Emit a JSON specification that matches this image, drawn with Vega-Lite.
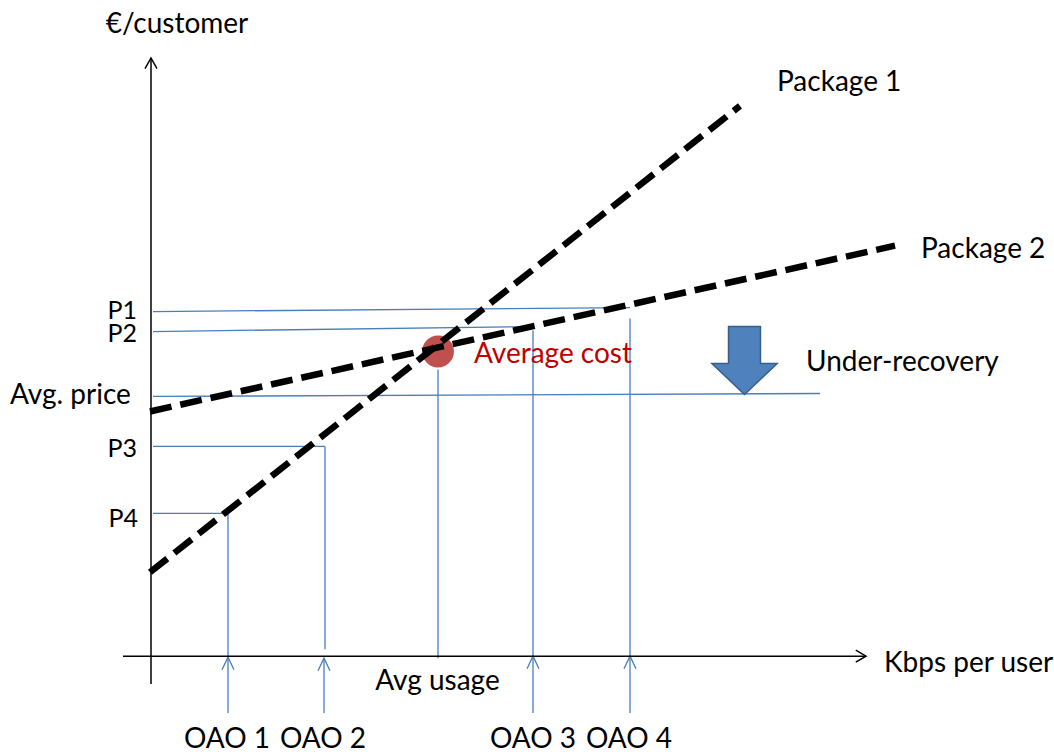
{
  "$schema": "https://vega.github.io/schema/vega-lite/v6.json",
  "width": 1054,
  "height": 754,
  "autosize": {"type": "fit", "contains": "padding"},
  "padding": 0,
  "background": "white",
  "config": {"view": {"stroke": null}},
  "datasets": {
    "axes": [
      {"x": 0, "y": -28, "x2": 0, "y2": 599},
      {"x": -28, "y": 0, "x2": 715, "y2": 0}
    ],
    "packages": [
      {"name": "Package 1", "x": -1, "y": 84, "x2": 589, "y2": 551},
      {"name": "Package 2", "x": -1, "y": 245, "x2": 744, "y2": 411}
    ],
    "guides": [
      {"x": 2, "y": 345, "x2": 479, "y2": 349},
      {"x": 2, "y": 325, "x2": 382, "y2": 330},
      {"x": 2, "y": 260, "x2": 669, "y2": 263},
      {"x": 2, "y": 210, "x2": 174, "y2": 210},
      {"x": 174, "y": 210, "x2": 174, "y2": 7},
      {"x": 2, "y": 143, "x2": 77, "y2": 143},
      {"x": 77, "y": 143, "x2": 77, "y2": -57},
      {"x": 173, "y": -57, "x2": 173, "y2": -2},
      {"x": 287, "y": 287, "x2": 287, "y2": -2},
      {"x": 382, "y": 326, "x2": 382, "y2": -57},
      {"x": 479, "y": 338, "x2": 479, "y2": -57}
    ],
    "blueHeads": [
      {"x": 77, "y": -1},
      {"x": 173, "y": -2},
      {"x": 382, "y": 0},
      {"x": 479, "y": 0}
    ],
    "avgCost": [{"x": 287, "y": 305}],
    "recovery": [{"x": 593.5, "y": 296}],
    "leftLabels": [
      {"text": "Package 1", "x": 626, "y": 566},
      {"text": "Package 2", "x": 770, "y": 399},
      {"text": "Under-recovery", "x": 655, "y": 286},
      {"text": "Avg. price", "x": -141, "y": 252},
      {"text": "Kbps per user", "x": 733, "y": -16}
    ],
    "centerLabels": [
      {"text": "€/customer", "x": 26, "y": 624},
      {"text": "Avg usage", "x": 286.5, "y": -34},
      {"text": "OAO 1", "x": 76, "y": -92},
      {"text": "OAO 2", "x": 172, "y": -92},
      {"text": "OAO 3", "x": 382, "y": -92},
      {"text": "OAO 4", "x": 478, "y": -92}
    ],
    "rightLabels": [
      {"text": "P1", "x": -14, "y": 338},
      {"text": "P2", "x": -14, "y": 315},
      {"text": "P3", "x": -14, "y": 199},
      {"text": "P4", "x": -13, "y": 129}
    ],
    "redLabels": [
      {"text": "Average cost", "x": 323, "y": 294}
    ]
  },
  "layer": [
    {
      "data": {"name": "guides"},
      "mark": {"type": "rule", "color": "#4A7EBB", "strokeWidth": 1.3},
      "encoding": {
        "x": {"field": "x", "type": "quantitative", "scale": {"domain": [-151, 903], "nice": false, "zero": false}, "axis": null},
        "y": {"field": "y", "type": "quantitative", "scale": {"domain": [-97, 657], "nice": false, "zero": false}, "axis": null},
        "x2": {"field": "x2"},
        "y2": {"field": "y2"}
      }
    },
    {
      "data": {"name": "blueHeads"},
      "mark": {"type": "point", "shape": "M-1,2.1L0,0L1,2.1", "size": 144, "filled": false, "stroke": "#4A7EBB", "strokeWidth": 1.3, "opacity": 1},
      "encoding": {
        "x": {"field": "x", "type": "quantitative", "scale": {"domain": [-151, 903], "nice": false, "zero": false}, "axis": null},
        "y": {"field": "y", "type": "quantitative", "scale": {"domain": [-97, 657], "nice": false, "zero": false}, "axis": null}
      }
    },
    {
      "data": {"name": "axes"},
      "mark": {"type": "rule", "color": "black", "strokeWidth": 1.5},
      "encoding": {
        "x": {"field": "x", "type": "quantitative", "scale": {"domain": [-151, 903], "nice": false, "zero": false}, "axis": null},
        "y": {"field": "y", "type": "quantitative", "scale": {"domain": [-97, 657], "nice": false, "zero": false}, "axis": null},
        "x2": {"field": "x2"},
        "y2": {"field": "y2"}
      }
    },
    {
      "data": {"values": [{"x": 0, "y": 599}]},
      "mark": {"type": "point", "shape": "M-1,1.8L0,0L1,1.8", "size": 144, "filled": false, "stroke": "black", "strokeWidth": 1.5, "opacity": 1},
      "encoding": {
        "x": {"field": "x", "type": "quantitative", "scale": {"domain": [-151, 903], "nice": false, "zero": false}, "axis": null},
        "y": {"field": "y", "type": "quantitative", "scale": {"domain": [-97, 657], "nice": false, "zero": false}, "axis": null}
      }
    },
    {
      "data": {"values": [{"x": 715, "y": 0}]},
      "mark": {"type": "point", "shape": "M-1.7,-1L0,0L-1.7,1", "size": 144, "filled": false, "stroke": "black", "strokeWidth": 1.5, "opacity": 1},
      "encoding": {
        "x": {"field": "x", "type": "quantitative", "scale": {"domain": [-151, 903], "nice": false, "zero": false}, "axis": null},
        "y": {"field": "y", "type": "quantitative", "scale": {"domain": [-97, 657], "nice": false, "zero": false}, "axis": null}
      }
    },
    {
      "data": {"name": "avgCost"},
      "mark": {"type": "circle", "size": 1018, "color": "#C0504D", "opacity": 1},
      "encoding": {
        "x": {"field": "x", "type": "quantitative", "scale": {"domain": [-151, 903], "nice": false, "zero": false}, "axis": null},
        "y": {"field": "y", "type": "quantitative", "scale": {"domain": [-97, 657], "nice": false, "zero": false}, "axis": null}
      }
    },
    {
      "data": {"name": "packages"},
      "mark": {"type": "rule", "color": "black", "strokeWidth": 6.5, "strokeDash": [22, 9], "strokeCap": "butt"},
      "encoding": {
        "x": {"field": "x", "type": "quantitative", "scale": {"domain": [-151, 903], "nice": false, "zero": false}, "axis": null},
        "y": {"field": "y", "type": "quantitative", "scale": {"domain": [-97, 657], "nice": false, "zero": false}, "axis": null},
        "x2": {"field": "x2"},
        "y2": {"field": "y2"}
      }
    },
    {
      "data": {"name": "recovery"},
      "mark": {"type": "point", "shape": "M-0.47,-1L0.47,-1L0.47,0.09L0.96,0.09L0,1L-0.96,0.09L-0.47,0.09Z", "size": 4624, "filled": true, "fill": "#4F81BD", "stroke": "#385D8A", "strokeWidth": 1.5, "opacity": 1},
      "encoding": {
        "x": {"field": "x", "type": "quantitative", "scale": {"domain": [-151, 903], "nice": false, "zero": false}, "axis": null},
        "y": {"field": "y", "type": "quantitative", "scale": {"domain": [-97, 657], "nice": false, "zero": false}, "axis": null}
      }
    },
    {
      "data": {"name": "leftLabels"},
      "mark": {"type": "text", "font": "Lato", "fontSize": 28, "baseline": "alphabetic", "align": "left", "color": "black"},
      "encoding": {
        "x": {"field": "x", "type": "quantitative", "scale": {"domain": [-151, 903], "nice": false, "zero": false}, "axis": null},
        "y": {"field": "y", "type": "quantitative", "scale": {"domain": [-97, 657], "nice": false, "zero": false}, "axis": null},
        "text": {"field": "text"}
      }
    },
    {
      "data": {"name": "centerLabels"},
      "mark": {"type": "text", "font": "Lato", "fontSize": 28, "baseline": "alphabetic", "align": "center", "color": "black"},
      "encoding": {
        "x": {"field": "x", "type": "quantitative", "scale": {"domain": [-151, 903], "nice": false, "zero": false}, "axis": null},
        "y": {"field": "y", "type": "quantitative", "scale": {"domain": [-97, 657], "nice": false, "zero": false}, "axis": null},
        "text": {"field": "text"}
      }
    },
    {
      "data": {"name": "rightLabels"},
      "mark": {"type": "text", "font": "Lato", "fontSize": 25, "baseline": "alphabetic", "align": "right", "color": "black"},
      "encoding": {
        "x": {"field": "x", "type": "quantitative", "scale": {"domain": [-151, 903], "nice": false, "zero": false}, "axis": null},
        "y": {"field": "y", "type": "quantitative", "scale": {"domain": [-97, 657], "nice": false, "zero": false}, "axis": null},
        "text": {"field": "text"}
      }
    },
    {
      "data": {"name": "redLabels"},
      "mark": {"type": "text", "font": "Lato", "fontSize": 28, "baseline": "alphabetic", "align": "left", "color": "#C00000"},
      "encoding": {
        "x": {"field": "x", "type": "quantitative", "scale": {"domain": [-151, 903], "nice": false, "zero": false}, "axis": null},
        "y": {"field": "y", "type": "quantitative", "scale": {"domain": [-97, 657], "nice": false, "zero": false}, "axis": null},
        "text": {"field": "text"}
      }
    }
  ]
}
